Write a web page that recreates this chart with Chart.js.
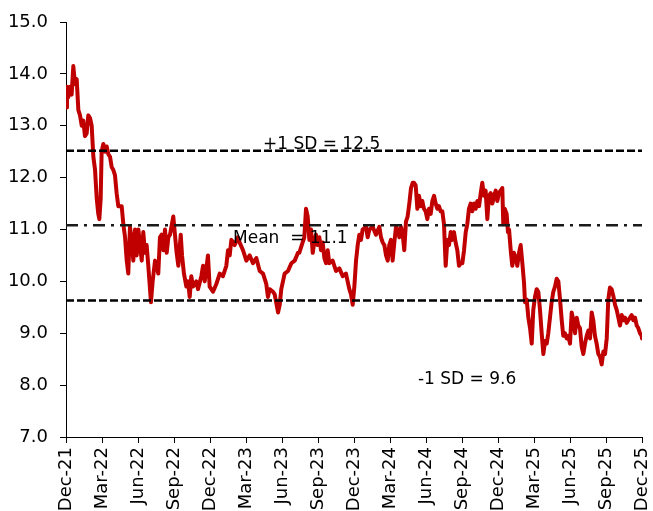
<!DOCTYPE html>
<html>
<head>
<meta charset="utf-8">
<script src="https://cdn.jsdelivr.net/npm/chart.js@4/dist/chart.umd.min.js"></script>
<style>
  html, body { margin: 0; padding: 0; background: #fff; }
  #wrap { width: 653px; height: 511px; }
</style>
</head>
<body>
<div id="wrap"><canvas id="c" width="653" height="511"></canvas></div>
<script>
// Quarterly axis labels, one every three months starting Dec-21
const tickLabels = ['Dec-21','Mar-22','Jun-22','Sep-22','Dec-22','Mar-23','Jun-23','Sep-23',
  'Dec-23','Mar-24','Jun-24','Sep-24','Dec-24','Mar-25','Jun-25','Sep-25','Dec-25'];

// Observation times, in months elapsed since Dec-21
const months = [
  0, 0.08, 0.19, 0.33, 0.47, 0.61, 0.75, 0.89, 1.03, 1.17, 1.31, 1.44, 1.58, 1.72, 1.86, 2.0, 2.14, 2.28, 2.42, 2.56,
  2.69, 2.78, 2.89, 2.97, 3.11, 3.25, 3.39, 3.53, 3.67, 3.81, 3.94, 4.08, 4.22, 4.36, 4.5, 4.64, 4.78, 4.92, 5.06, 5.19,
  5.33, 5.47, 5.61, 5.75, 5.89, 6.03, 6.17, 6.31, 6.44, 6.58, 6.72, 6.86, 7.0, 7.08, 7.22, 7.42, 7.56, 7.69, 7.83, 7.97,
  8.11, 8.25, 8.39, 8.53, 8.67, 8.94, 9.08, 9.22, 9.36, 9.56,
  9.67, 9.83, 10.03, 10.17, 10.31, 10.44, 10.58, 10.86, 11.0, 11.28, 11.42, 11.56, 11.83, 11.97, 12.25, 12.53, 12.81, 13.08,
  13.36, 13.5, 13.64, 13.78, 14.06, 14.33, 14.47, 14.75, 15.03, 15.31, 15.58, 15.86, 16.14, 16.42, 16.69, 16.83, 16.97,
  17.25, 17.39, 17.67, 17.81, 17.94, 18.22, 18.5, 18.78, 19.06, 19.33,
  19.44, 19.72, 19.86, 20.0, 20.14, 20.28, 20.42, 20.56, 20.69, 20.83, 20.97, 21.11, 21.25, 21.39, 21.53, 21.67, 21.81,
  21.94, 22.22, 22.5, 22.78, 23.06, 23.33, 23.61, 23.75, 23.89, 24.03, 24.17, 24.31, 24.44, 24.58, 24.72, 25.0, 25.14,
  25.28, 25.56, 25.83, 26.11, 26.25, 26.39, 26.53, 26.67, 26.81, 26.94, 27.08, 27.22, 27.36, 27.5, 27.64, 27.78, 27.92,
  28.06, 28.19, 28.33, 28.47, 28.61, 28.75, 28.89,
  29.0, 29.14, 29.28, 29.42, 29.56, 29.69, 29.83, 29.97, 30.11, 30.25, 30.39, 30.53, 30.67, 30.81, 30.94, 31.08, 31.22,
  31.36, 31.5, 31.64, 31.78, 31.92, 32.06, 32.19, 32.33, 32.47, 32.61, 32.75, 32.89, 33.03, 33.17, 33.31, 33.44, 33.58,
  33.72, 33.86, 34.0, 34.14, 34.28, 34.42, 34.56, 34.69, 34.83, 34.97, 35.11, 35.25, 35.39, 35.53, 35.67, 35.81, 35.94,
  36.08, 36.22, 36.36, 36.44, 36.56, 36.72, 36.83, 36.92, 37.06, 37.19, 37.33, 37.47, 37.61, 37.75, 37.89, 38.03, 38.17,
  38.25, 38.39, 38.53, 38.67, 38.81, 38.94, 39.08, 39.22, 39.36, 39.5, 39.64, 39.78, 39.92, 40.06, 40.19, 40.33, 40.47,
  40.61, 40.75, 40.89, 41.03, 41.17, 41.31, 41.44, 41.58, 41.72, 41.86, 42.0, 42.14, 42.28, 42.42, 42.56, 42.69, 42.83,
  42.97, 43.11, 43.25, 43.39, 43.53, 43.67, 43.81, 43.94, 44.08, 44.22, 44.36, 44.5, 44.64, 44.78, 44.92, 45.06, 45.19,
  45.33, 45.47, 45.61, 45.75, 45.89, 46.03, 46.17, 46.31, 46.44, 46.58, 46.72, 46.86, 47.0, 47.14, 47.28, 47.42, 47.56,
  47.69, 47.83, 47.97, 48.0
];

// Index level at each observation
const values = [
  13.35, 13.75, 13.55, 13.75, 13.6, 14.15, 13.8, 13.9, 13.3, 13.2, 13.0, 13.1, 12.8, 12.85, 13.2, 13.15, 13.0, 12.4, 12.15, 11.6,
  11.3, 11.2, 11.6, 12.5, 12.65, 12.5, 12.6, 12.45, 12.4, 12.2, 12.15, 12.05, 11.7, 11.45, 11.45, 11.45, 11.1, 10.85, 10.4, 10.15,
  11.05, 10.8, 10.4, 11.0, 10.5, 11.0, 10.7, 10.4, 10.95, 10.55, 10.7, 10.3, 9.85, 9.6, 10.0, 10.4, 10.3, 10.15, 10.85, 10.9,
  10.6, 11.0, 10.55, 10.85, 10.9, 11.25, 10.9, 10.55, 10.3, 10.9,
  10.5, 10.15, 9.9, 10.0, 9.7, 10.1, 9.9, 10.0, 9.85, 10.1, 10.3, 10.0, 10.5, 9.9, 9.8, 9.95, 10.15, 10.1,
  10.3, 10.6, 10.5, 10.8, 10.7, 10.85, 10.75, 10.6, 10.4, 10.5, 10.35, 10.45, 10.2, 10.15, 9.95, 9.7, 9.85,
  9.8, 9.75, 9.4, 9.55, 9.85, 10.15, 10.2, 10.35, 10.4, 10.55,
  10.55, 10.75, 10.85, 11.4, 11.25, 10.8, 11.0, 10.55, 10.75, 10.9, 10.7, 10.85, 10.6, 10.75, 10.45, 10.35, 10.6,
  10.35, 10.4, 10.2, 10.25, 10.1, 10.15, 9.85, 9.75, 9.55, 9.9, 10.4, 10.7, 10.9, 10.8, 11.0, 11.05, 10.85,
  11.0, 11.05, 10.9, 11.05, 10.85, 10.75, 10.7, 10.5, 10.4, 10.7, 10.8, 10.4, 10.75, 11.05, 11.0, 10.85, 11.05,
  10.9, 10.6, 11.15, 11.25, 11.5, 11.8, 11.9,
  11.9, 11.85, 11.4, 11.65, 11.45, 11.55, 11.4, 11.35, 11.2, 11.4, 11.3, 11.55, 11.65, 11.5, 11.4, 11.45, 11.35,
  11.35, 11.1, 10.3, 10.8, 10.7, 10.95, 10.8, 10.95, 10.75, 10.6, 10.3, 10.35, 10.35, 10.6, 10.95, 11.1, 11.4,
  11.5, 11.35, 11.5, 11.4, 11.55, 11.45, 11.7, 11.9, 11.65, 11.75, 11.2, 11.65, 11.7, 11.5, 11.65, 11.75, 11.55,
  11.7, 11.75, 11.8, 11.1, 11.4, 11.3, 10.95, 11.0, 10.6, 10.3, 10.55, 10.45, 10.3, 10.55, 10.7, 10.35, 9.97,
  9.6, 9.65, 9.3, 9.1, 8.8, 9.45, 9.7, 9.85, 9.8, 9.45, 9.0, 8.6, 8.85, 8.8, 9.0, 9.3, 9.6,
  9.8, 9.9, 10.05, 10.0, 9.65, 9.25, 8.95, 9.0, 8.9, 8.95, 8.8, 9.4, 9.25, 9.0, 9.3, 9.15, 9.1,
  8.75, 8.6, 8.8, 8.95, 9.05, 8.9, 9.4, 9.25, 8.95, 8.8, 8.6, 8.55, 8.4, 8.65, 8.6, 8.9, 9.65,
  9.88, 9.85, 9.72, 9.55, 9.45, 9.3, 9.15, 9.35, 9.25, 9.3, 9.2, 9.25, 9.3, 9.35, 9.25, 9.3, 9.15,
  9.1, 9.0, 8.95, 8.9
];

// Long-run reference levels
const plusSD = 12.52;
const meanLevel = 11.08;
const minusSD = 9.63;

const series = months.map((m, i) => ({ x: m, y: values[i] }));
const flat = v => [{ x: 0, y: v }, { x: 48, y: v }];

const FONT = 'DejaVu Sans';

// Text tags beside the reference levels
const levelNotes = [
  { text: '+1 SD = ' + plusSD.toFixed(1), at: [21.3, 12.63], align: 'center' },
  { text: 'Mean  = ' + meanLevel.toFixed(1), at: [13.92, 10.83], align: 'left' },
  { text: '-1 SD = ' + minusSD.toFixed(1), at: [29.33, 8.11], align: 'left' }
];

const levelText = {
  id: 'levelText',
  afterDatasetsDraw(chart) {
    const { ctx, scales: { x, y } } = chart;
    ctx.save();
    ctx.font = '17px "' + FONT + '"';
    ctx.fillStyle = '#000';
    ctx.textBaseline = 'middle';
    levelNotes.forEach(n => {
      ctx.textAlign = n.align;
      ctx.fillText(n.text, x.getPixelForValue(n.at[0]), y.getPixelForValue(n.at[1]));
    });
    ctx.restore();
  }
};

new Chart(document.getElementById('c'), {
  type: 'line',
  data: {
    datasets: [
      { data: flat(plusSD), borderColor: '#000', borderWidth: 2.5, borderDash: [8, 3], pointRadius: 0, order: 0 },
      { data: flat(meanLevel), borderColor: '#1a1a1a', borderWidth: 2.5, borderDash: [12, 6, 3, 6], pointRadius: 0, order: 0 },
      { data: flat(minusSD), borderColor: '#000', borderWidth: 2.5, borderDash: [8, 3], pointRadius: 0, order: 0 },
      { data: series, borderColor: '#c00000', borderWidth: 4, borderJoinStyle: 'round', borderCapStyle: 'round',
        pointRadius: 0, tension: 0, order: 1 }
    ]
  },
  options: {
    responsive: false,
    animation: false,
    devicePixelRatio: 1,
    layout: { padding: { top: 22, right: 11, left: 0, bottom: 0 } },
    plugins: { legend: { display: false }, tooltip: { enabled: false } },
    scales: {
      x: {
        type: 'linear',
        min: 0,
        max: 48,
        afterBuildTicks: s => { s.ticks = tickLabels.map((_, i) => ({ value: i * 3 })); },
        afterFit: s => { s.height = 74; s.paddingLeft = 0; s.paddingRight = 0; },
        ticks: {
          autoSkip: false,
          minRotation: 90,
          maxRotation: 90,
          padding: 4,
          color: '#000',
          font: { family: FONT, size: 18 },
          callback: v => tickLabels[Math.round(v / 3)]
        },
        grid: { drawOnChartArea: false, drawTicks: true, tickLength: 6, color: '#000' },
        border: { color: '#000', width: 1 }
      },
      y: {
        min: 7,
        max: 15,
        afterFit: s => { s.width = 66; s.paddingTop = 0; s.paddingBottom = 0; },
        ticks: {
          stepSize: 1,
          padding: 12,
          color: '#000',
          font: { family: FONT, size: 18 },
          callback: v => v.toFixed(1)
        },
        grid: { drawOnChartArea: false, drawTicks: true, tickLength: 6, color: '#000' },
        border: { color: '#000', width: 1 }
      }
    }
  },
  plugins: [levelText]
});
</script>
</body>
</html>
